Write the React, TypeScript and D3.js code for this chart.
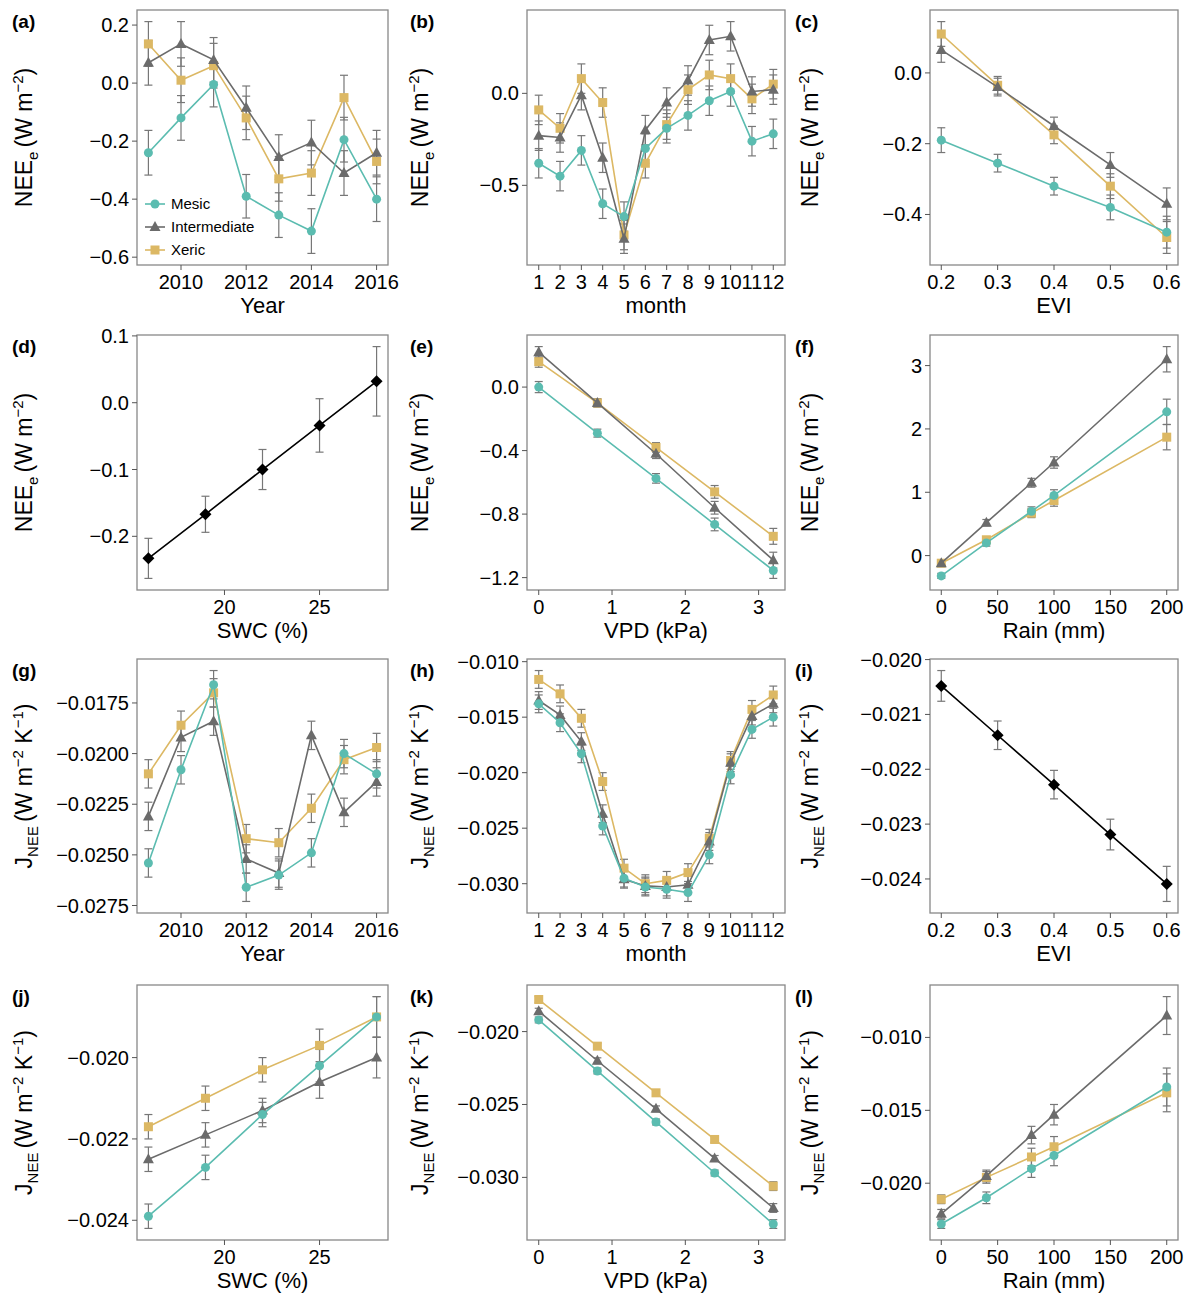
import React from "react";
import * as d3 from "d3";

const years = [2009, 2010, 2011, 2012, 2013, 2014, 2015, 2016];
const months = [1, 2, 3, 4, 5, 6, 7, 8, 9, 10, 11, 12];
const evi = [0.2, 0.3, 0.4, 0.5, 0.6];
const swc = [16, 19, 22, 25, 28];
const vpd = [0, 0.8, 1.6, 2.4, 3.2];
const rain = [0, 40, 80, 100, 200];

// NEE_e panels
const aMesic = [-0.24, -0.12, -0.005, -0.39, -0.455, -0.51, -0.195, -0.4];
const aInter = [0.07, 0.135, 0.08, -0.085, -0.255, -0.205, -0.31, -0.24];
const aXeric = [0.135, 0.01, 0.06, -0.12, -0.33, -0.31, -0.05, -0.27];
const aErr = [0.077, 0.077, 0.077, 0.075, 0.077, 0.077, 0.077, 0.077];

const bMesic = [-0.38, -0.45, -0.31, -0.6, -0.67, -0.3, -0.19, -0.12, -0.04, 0.01, -0.26, -0.22];
const bInter = [-0.23, -0.24, -0.01, -0.35, -0.79, -0.2, -0.05, 0.07, 0.29, 0.31, 0.01, 0.02];
const bXeric = [-0.09, -0.19, 0.08, -0.05, -0.77, -0.38, -0.17, 0.02, 0.1, 0.08, -0.03, 0.05];
const bErr = [0.08, 0.08, 0.08, 0.08, 0.08, 0.08, 0.08, 0.08, 0.08, 0.08, 0.08, 0.08];

const cMesic = [-0.19, -0.255, -0.32, -0.38, -0.45];
const cInter = [0.065, -0.04, -0.15, -0.26, -0.37];
const cXeric = [0.11, -0.035, -0.175, -0.32, -0.465];
const cErr = [0.035, 0.025, 0.025, 0.035, 0.045];

const dAll = [-0.233, -0.167, -0.1, -0.034, 0.032];
const dErr = [0.03, 0.027, 0.03, 0.04, 0.052];

const eMesic = [0.0, -0.29, -0.575, -0.865, -1.155];
const eInter = [0.22, -0.1, -0.42, -0.76, -1.09];
const eXeric = [0.16, -0.1, -0.38, -0.66, -0.94];
const eErr = [0.035, 0.025, 0.03, 0.04, 0.05];

const fMesic = [-0.32, 0.2, 0.7, 0.95, 2.27];
const fInter = [-0.12, 0.52, 1.15, 1.47, 3.1];
const fXeric = [-0.12, 0.25, 0.67, 0.87, 1.87];
const fErr = [0.04, 0.05, 0.07, 0.09, 0.2];

// J_NEE panels
const gMesic = [-0.0254, -0.0208, -0.0166, -0.0266, -0.026, -0.0249, -0.02, -0.021];
const gInter = [-0.0231, -0.0192, -0.0184, -0.0252, -0.0259, -0.0191, -0.0229, -0.0214];
const gXeric = [-0.021, -0.0186, -0.017, -0.0242, -0.0244, -0.0227, -0.0203, -0.0197];
const gErr = [0.0007, 0.0007, 0.0007, 0.0007, 0.0007, 0.0007, 0.0007, 0.0007];

const hMesic = [-0.0138, -0.0155, -0.0183, -0.0248, -0.0295, -0.0303, -0.0305, -0.0308, -0.0274, -0.0202, -0.0161, -0.015];
const hInter = [-0.0135, -0.0148, -0.0172, -0.0237, -0.0296, -0.0302, -0.0303, -0.0301, -0.0262, -0.0191, -0.0149, -0.0138];
const hXeric = [-0.0116, -0.0129, -0.0151, -0.0208, -0.0286, -0.03, -0.0297, -0.029, -0.0259, -0.0189, -0.0143, -0.013];
const hErr = [0.0008, 0.0008, 0.0008, 0.0008, 0.0008, 0.0008, 0.0008, 0.0008, 0.0008, 0.0008, 0.0008, 0.0008];

const iAll = [-0.02048, -0.02138, -0.02228, -0.02319, -0.02409];
const iErr = [0.00028, 0.00026, 0.00026, 0.00028, 0.00032];

const jMesic = [-0.0239, -0.0227, -0.0214, -0.0202, -0.019];
const jInter = [-0.0225, -0.0219, -0.0213, -0.0206, -0.02];
const jXeric = [-0.0217, -0.021, -0.0203, -0.0197, -0.019];
const jErr = [0.0003, 0.0003, 0.0003, 0.0004, 0.0005];

const kMesic = [-0.0192, -0.0227, -0.0262, -0.0297, -0.0332];
const kInter = [-0.0186, -0.022, -0.0253, -0.0287, -0.0321];
const kXeric = [-0.0178, -0.021, -0.0242, -0.0274, -0.0306];
const kErr = [0.0002, 0.0002, 0.0002, 0.0002, 0.0003];

const lMesic = [-0.0228, -0.021, -0.019, -0.0181, -0.0134];
const lInter = [-0.0221, -0.0195, -0.0167, -0.0153, -0.0085];
const lXeric = [-0.0211, -0.0196, -0.0182, -0.0175, -0.0138];
const lErr = [0.0003, 0.0004, 0.0006, 0.0007, 0.0013];

const COL = { mesic: "#5bbcb0", inter: "#6b6b6b", xeric: "#dcb864", all: "#000" };
const FONT = "Helvetica, 'Liberation Sans', Arial, sans-serif";
const colsX = [[137, 388], [527, 785], [930, 1178]];
const rowsY = [[10, 265], [335, 590], [659, 913], [985, 1240]];
const letterX = [12, 410, 795];
const titleX = [32, 428, 818];

type S = { kind: "mesic" | "inter" | "xeric" | "all"; y: number[]; err: number[] };
type P = {
  letter: string; row: number; col: number; x: number[]; series: S[];
  xTicks: number[]; xFmt?: (v: number) => string; xTitle: string;
  yTicks: number[]; yFmt: (v: number) => string; yKind: "nee" | "j"; legend?: boolean;
};

const minus = (s: string) => s.replace("-", "\u2212");
const f1 = (v: number) => minus(d3.format(".1f")(v));
const f3 = (v: number) => minus(d3.format(".3f")(v));
const f4 = (v: number) => minus(d3.format(".4f")(v));
const f0 = (v: number) => minus(d3.format("d")(v));

const three = (m: number[], i: number[], x: number[], e: number[]): S[] => [
  { kind: "mesic", y: m, err: e },
  { kind: "inter", y: i, err: e },
  { kind: "xeric", y: x, err: e },
];

const panels: P[] = [
  { letter: "(a)", row: 0, col: 0, x: years, series: three(aMesic, aInter, aXeric, aErr), xTicks: [2010, 2012, 2014, 2016], xFmt: f0, xTitle: "Year", yTicks: [0.2, 0, -0.2, -0.4, -0.6], yFmt: f1, yKind: "nee", legend: true },
  { letter: "(b)", row: 0, col: 1, x: months, series: three(bMesic, bInter, bXeric, bErr), xTicks: months, xFmt: f0, xTitle: "month", yTicks: [0, -0.5], yFmt: f1, yKind: "nee" },
  { letter: "(c)", row: 0, col: 2, x: evi, series: three(cMesic, cInter, cXeric, cErr), xTicks: evi, xFmt: f1, xTitle: "EVI", yTicks: [0, -0.2, -0.4], yFmt: f1, yKind: "nee" },
  { letter: "(d)", row: 1, col: 0, x: swc, series: [{ kind: "all", y: dAll, err: dErr }], xTicks: [20, 25], xFmt: f0, xTitle: "SWC (%)", yTicks: [0.1, 0, -0.1, -0.2], yFmt: f1, yKind: "nee" },
  { letter: "(e)", row: 1, col: 1, x: vpd, series: three(eMesic, eInter, eXeric, eErr), xTicks: [0, 1, 2, 3], xFmt: f0, xTitle: "VPD (kPa)", yTicks: [0, -0.4, -0.8, -1.2], yFmt: f1, yKind: "nee" },
  { letter: "(f)", row: 1, col: 2, x: rain, series: three(fMesic, fInter, fXeric, fErr), xTicks: [0, 50, 100, 150, 200], xFmt: f0, xTitle: "Rain (mm)", yTicks: [0, 1, 2, 3], yFmt: f0, yKind: "nee" },
  { letter: "(g)", row: 2, col: 0, x: years, series: three(gMesic, gInter, gXeric, gErr), xTicks: [2010, 2012, 2014, 2016], xFmt: f0, xTitle: "Year", yTicks: [-0.0175, -0.02, -0.0225, -0.025, -0.0275], yFmt: f4, yKind: "j" },
  { letter: "(h)", row: 2, col: 1, x: months, series: three(hMesic, hInter, hXeric, hErr), xTicks: months, xFmt: f0, xTitle: "month", yTicks: [-0.01, -0.015, -0.02, -0.025, -0.03], yFmt: f3, yKind: "j" },
  { letter: "(i)", row: 2, col: 2, x: evi, series: [{ kind: "all", y: iAll, err: iErr }], xTicks: evi, xFmt: f1, xTitle: "EVI", yTicks: [-0.02, -0.021, -0.022, -0.023, -0.024], yFmt: f3, yKind: "j" },
  { letter: "(j)", row: 3, col: 0, x: swc, series: three(jMesic, jInter, jXeric, jErr), xTicks: [20, 25], xFmt: f0, xTitle: "SWC (%)", yTicks: [-0.02, -0.022, -0.024], yFmt: f3, yKind: "j" },
  { letter: "(k)", row: 3, col: 1, x: vpd, series: three(kMesic, kInter, kXeric, kErr), xTicks: [0, 1, 2, 3], xFmt: f0, xTitle: "VPD (kPa)", yTicks: [-0.02, -0.025, -0.03], yFmt: f3, yKind: "j" },
  { letter: "(l)", row: 3, col: 2, x: rain, series: three(lMesic, lInter, lXeric, lErr), xTicks: [0, 50, 100, 150, 200], xFmt: f0, xTitle: "Rain (mm)", yTicks: [-0.01, -0.015, -0.02], yFmt: f3, yKind: "j" },
];

const Marker = ({ kind, x, y }: { kind: S["kind"]; x: number; y: number }) => {
  const c = COL[kind];
  if (kind === "mesic") return <circle cx={x} cy={y} r={4.5} fill={c} />;
  if (kind === "inter") return <path d={`M${x},${y - 6}L${x + 5.5},${y + 4}L${x - 5.5},${y + 4}Z`} fill={c} />;
  if (kind === "xeric") return <rect x={x - 4.5} y={y - 4.5} width={9} height={9} fill={c} />;
  return <path d={`M${x},${y - 6}L${x + 6},${y}L${x},${y + 6}L${x - 6},${y}Z`} fill={c} />;
};

const YTitle = ({ kind, x, y }: { kind: "nee" | "j"; x: number; y: number }) => (
  <text transform={`translate(${x},${y}) rotate(-90)`} textAnchor="middle" fontSize={23} fontFamily={FONT}>
    {kind === "nee" ? (
      <>
        <tspan>NEE</tspan><tspan fontSize={15} dy={6}>e</tspan>
        <tspan dy={-6} dx={4}>(W m</tspan><tspan fontSize={15} dy={-9}>−2</tspan><tspan dy={9}>)</tspan>
      </>
    ) : (
      <>
        <tspan>J</tspan><tspan fontSize={15} dy={6}>NEE</tspan>
        <tspan dy={-6} dx={4}>(W m</tspan><tspan fontSize={15} dy={-9}>−2</tspan>
        <tspan dy={9}> K</tspan><tspan fontSize={15} dy={-9}>−1</tspan><tspan dy={9}>)</tspan>
      </>
    )}
  </text>
);

const Panel = ({ p }: { p: P }) => {
  const [x0, x1] = colsX[p.col];
  const [y0, y1] = rowsY[p.row];
  const xe = d3.extent(p.x) as [number, number];
  const xp = (xe[1] - xe[0]) * 0.05;
  const xs = d3.scaleLinear().domain([xe[0] - xp, xe[1] + xp]).range([x0, x1]);
  const lo = d3.min(p.series.flatMap((s) => s.y.map((v, i) => v - s.err[i])))!;
  const hi = d3.max(p.series.flatMap((s) => s.y.map((v, i) => v + s.err[i])))!;
  const yp = (hi - lo) * 0.05;
  const ys = d3.scaleLinear().domain([lo - yp, hi + yp]).range([y1, y0]);
  const line = d3.line<number>().x((_, i) => xs(p.x[i])).y((v) => ys(v));
  const order = [...p.series].reverse();
  return (
    <g fontFamily={FONT}>
      <text x={letterX[p.col]} y={y0 + 18} fontSize={19} fontWeight="bold">{p.letter}</text>
      <rect x={x0} y={y0} width={x1 - x0} height={y1 - y0} fill="none" stroke="#888" strokeWidth={1.3} />
      {p.yTicks.map((t) => (
        <g key={t}>
          <line x1={x0 - 5} x2={x0} y1={ys(t)} y2={ys(t)} stroke="#555" />
          <text x={x0 - 8} y={ys(t)} dy="0.35em" textAnchor="end" fontSize={20}>{p.yFmt(t)}</text>
        </g>
      ))}
      {p.xTicks.map((t) => (
        <g key={t}>
          <line x1={xs(t)} x2={xs(t)} y1={y1} y2={y1 + 5} stroke="#555" />
          <text x={xs(t)} y={y1 + 24} textAnchor="middle" fontSize={20}>{(p.xFmt || f0)(t)}</text>
        </g>
      ))}
      <text x={(x0 + x1) / 2} y={y1 + 48} textAnchor="middle" fontSize={22}>{p.xTitle}</text>
      <YTitle kind={p.yKind} x={titleX[p.col]} y={(y0 + y1) / 2} />
      {order.map((s) => (
        <g key={s.kind}>
          {s.y.map((v, i) => {
            const cx = xs(p.x[i]);
            return (
              <g key={i} stroke="#777" strokeWidth={1.2}>
                <line x1={cx} x2={cx} y1={ys(v - s.err[i])} y2={ys(v + s.err[i])} />
                <line x1={cx - 4} x2={cx + 4} y1={ys(v - s.err[i])} y2={ys(v - s.err[i])} />
                <line x1={cx - 4} x2={cx + 4} y1={ys(v + s.err[i])} y2={ys(v + s.err[i])} />
              </g>
            );
          })}
        </g>
      ))}
      {order.map((s) => (
        <g key={s.kind + "l"}>
          <path d={line(s.y)!} fill="none" stroke={COL[s.kind]} strokeWidth={1.6} />
          {s.y.map((v, i) => <Marker key={i} kind={s.kind} x={xs(p.x[i])} y={ys(v)} />)}
        </g>
      ))}
      {p.legend &&
        (["mesic", "inter", "xeric"] as const).map((k, i) => {
          const ly = y0 + 194 + i * 23;
          const lx = x0 + 8;
          return (
            <g key={k}>
              <line x1={lx} x2={lx + 20} y1={ly} y2={ly} stroke={COL[k]} strokeWidth={1.6} />
              <Marker kind={k} x={lx + 10} y={ly} />
              <text x={lx + 26} y={ly} dy="0.35em" fontSize={15}>{["Mesic", "Intermediate", "Xeric"][i]}</text>
            </g>
          );
        })}
    </g>
  );
};

export default function App() {
  return (
    <svg width={1189} height={1296} style={{ position: "absolute", left: 0, top: 0, background: "#fff" }}>
      {panels.map((p) => <Panel key={p.letter} p={p} />)}
    </svg>
  );
}
